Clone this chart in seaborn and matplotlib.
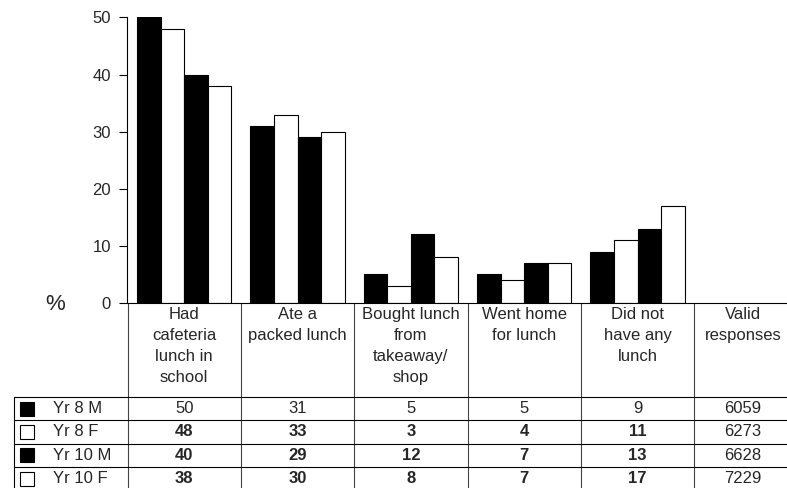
import pandas as pd
import matplotlib.pyplot as plt
import matplotlib.transforms as mtransforms
from matplotlib.patches import Rectangle
import seaborn as sns

categories = ["Had\ncafeteria\nlunch in\nschool", "Ate a\npacked lunch",
              "Bought lunch\nfrom\ntakeaway/\nshop", "Went home\nfor lunch",
              "Did not\nhave any\nlunch"]
extra_col = "Valid\nresponses"
groups = ["Yr 8 M", "Yr 8 F", "Yr 10 M", "Yr 10 F"]
yr8_m = [50, 31, 5, 5, 9]
yr8_f = [48, 33, 3, 4, 11]
yr10_m = [40, 29, 12, 7, 13]
yr10_f = [38, 30, 8, 7, 17]
valid_responses = [6059, 6273, 6628, 7229]
group_colors = ["black", "white", "black", "white"]

series = [yr8_m, yr8_f, yr10_m, yr10_f]
rows = []
for g, vals in zip(groups, series):
    for c, v in zip(categories, vals):
        rows.append({"category": c, "group": g, "pct": v})
df = pd.DataFrame(rows)

sns.set_style("ticks")
plt.rcParams['font.family'] = ['Liberation Sans', 'DejaVu Sans']

fig = plt.figure(figsize=(7.87, 4.88), dpi=100)
# axes runs past the right edge, like the original (last column is cut off)
ax = fig.add_axes([127.5 / 787, 185 / 488, 680 / 787, 285.5 / 488])

sns.barplot(data=df, x="category", y="pct", hue="group", order=categories,
            hue_order=groups, palette=group_colors, edgecolor="black",
            linewidth=0.8, width=0.83, legend=False, ax=ax)

ax.set_xlim(-0.5, len(categories) + 0.5)
ax.set_ylim(0, 50)
ax.set_yticks(range(0, 51, 10))
ax.tick_params(axis="y", labelsize=12, length=6, width=0.8, color="black", pad=6)
ax.set_xticks([])
ax.set_xlabel("")
ax.set_ylabel("")
sns.despine(ax=ax, top=True, right=True)
for side in ["left", "bottom"]:
    ax.spines[side].set_linewidth(0.8)
    ax.spines[side].set_color("black")

ax.text((55 - 127.5) / 680, -1 / 285.5, "%", transform=ax.transAxes,
        fontsize=16, ha="center", va="center")

# data table under the chart
blend = mtransforms.blended_transform_factory(ax.transData, ax.transAxes)
px = 285.5
header_h = 94 / px
row_h = 23.3 / px
bottom = -185 / px
left_box = (14 - 127.5) / 680
lw = 0.8
fs = 12
# last column text sits a little left of centre so it stays inside the figure
valid_x = len(categories) - 0.07

all_cols = categories + [extra_col]
for i in range(len(all_cols) + 1):
    ax.plot([i - 0.5, i - 0.5], [0, bottom], transform=blend, color="#444444",
            lw=lw, clip_on=False)
for r in range(len(groups)):
    y = -header_h - r * row_h
    ax.plot([left_box, 1.2], [y, y], transform=ax.transAxes, color="black",
            lw=lw, clip_on=False)
ax.plot([left_box, left_box], [-header_h, bottom], transform=ax.transAxes,
        color="black", lw=lw, clip_on=False)

for i, c in enumerate(categories):
    ax.text(i, -3.6 / px, c, transform=blend, ha="center", va="top",
            fontsize=fs, linespacing=1.52, clip_on=False)
ax.text(valid_x, -3.6 / px, extra_col, transform=blend, ha="center", va="top",
        fontsize=fs, linespacing=1.52, clip_on=False)

for r, (g, vals) in enumerate(zip(groups, series)):
    yc = -header_h - (r + 0.5) * row_h
    ax.add_patch(Rectangle(((20 - 127.5) / 680, yc - 7 / px), 14 / 680, 14 / px,
                           transform=ax.transAxes, facecolor=group_colors[r],
                           edgecolor="black", lw=lw, clip_on=False))
    ax.text((53 - 127.5) / 680, yc, g, transform=ax.transAxes, ha="left",
            va="center", fontsize=fs)
    weight = "normal" if r == 0 else "bold"
    for i, v in enumerate(vals):
        ax.text(i, yc, str(v), transform=blend, ha="center", va="center",
                fontsize=fs, fontweight=weight)
    ax.text(valid_x, yc, str(valid_responses[r]), transform=blend,
            ha="center", va="center", fontsize=fs)

fig.savefig("out.png", dpi=100)
